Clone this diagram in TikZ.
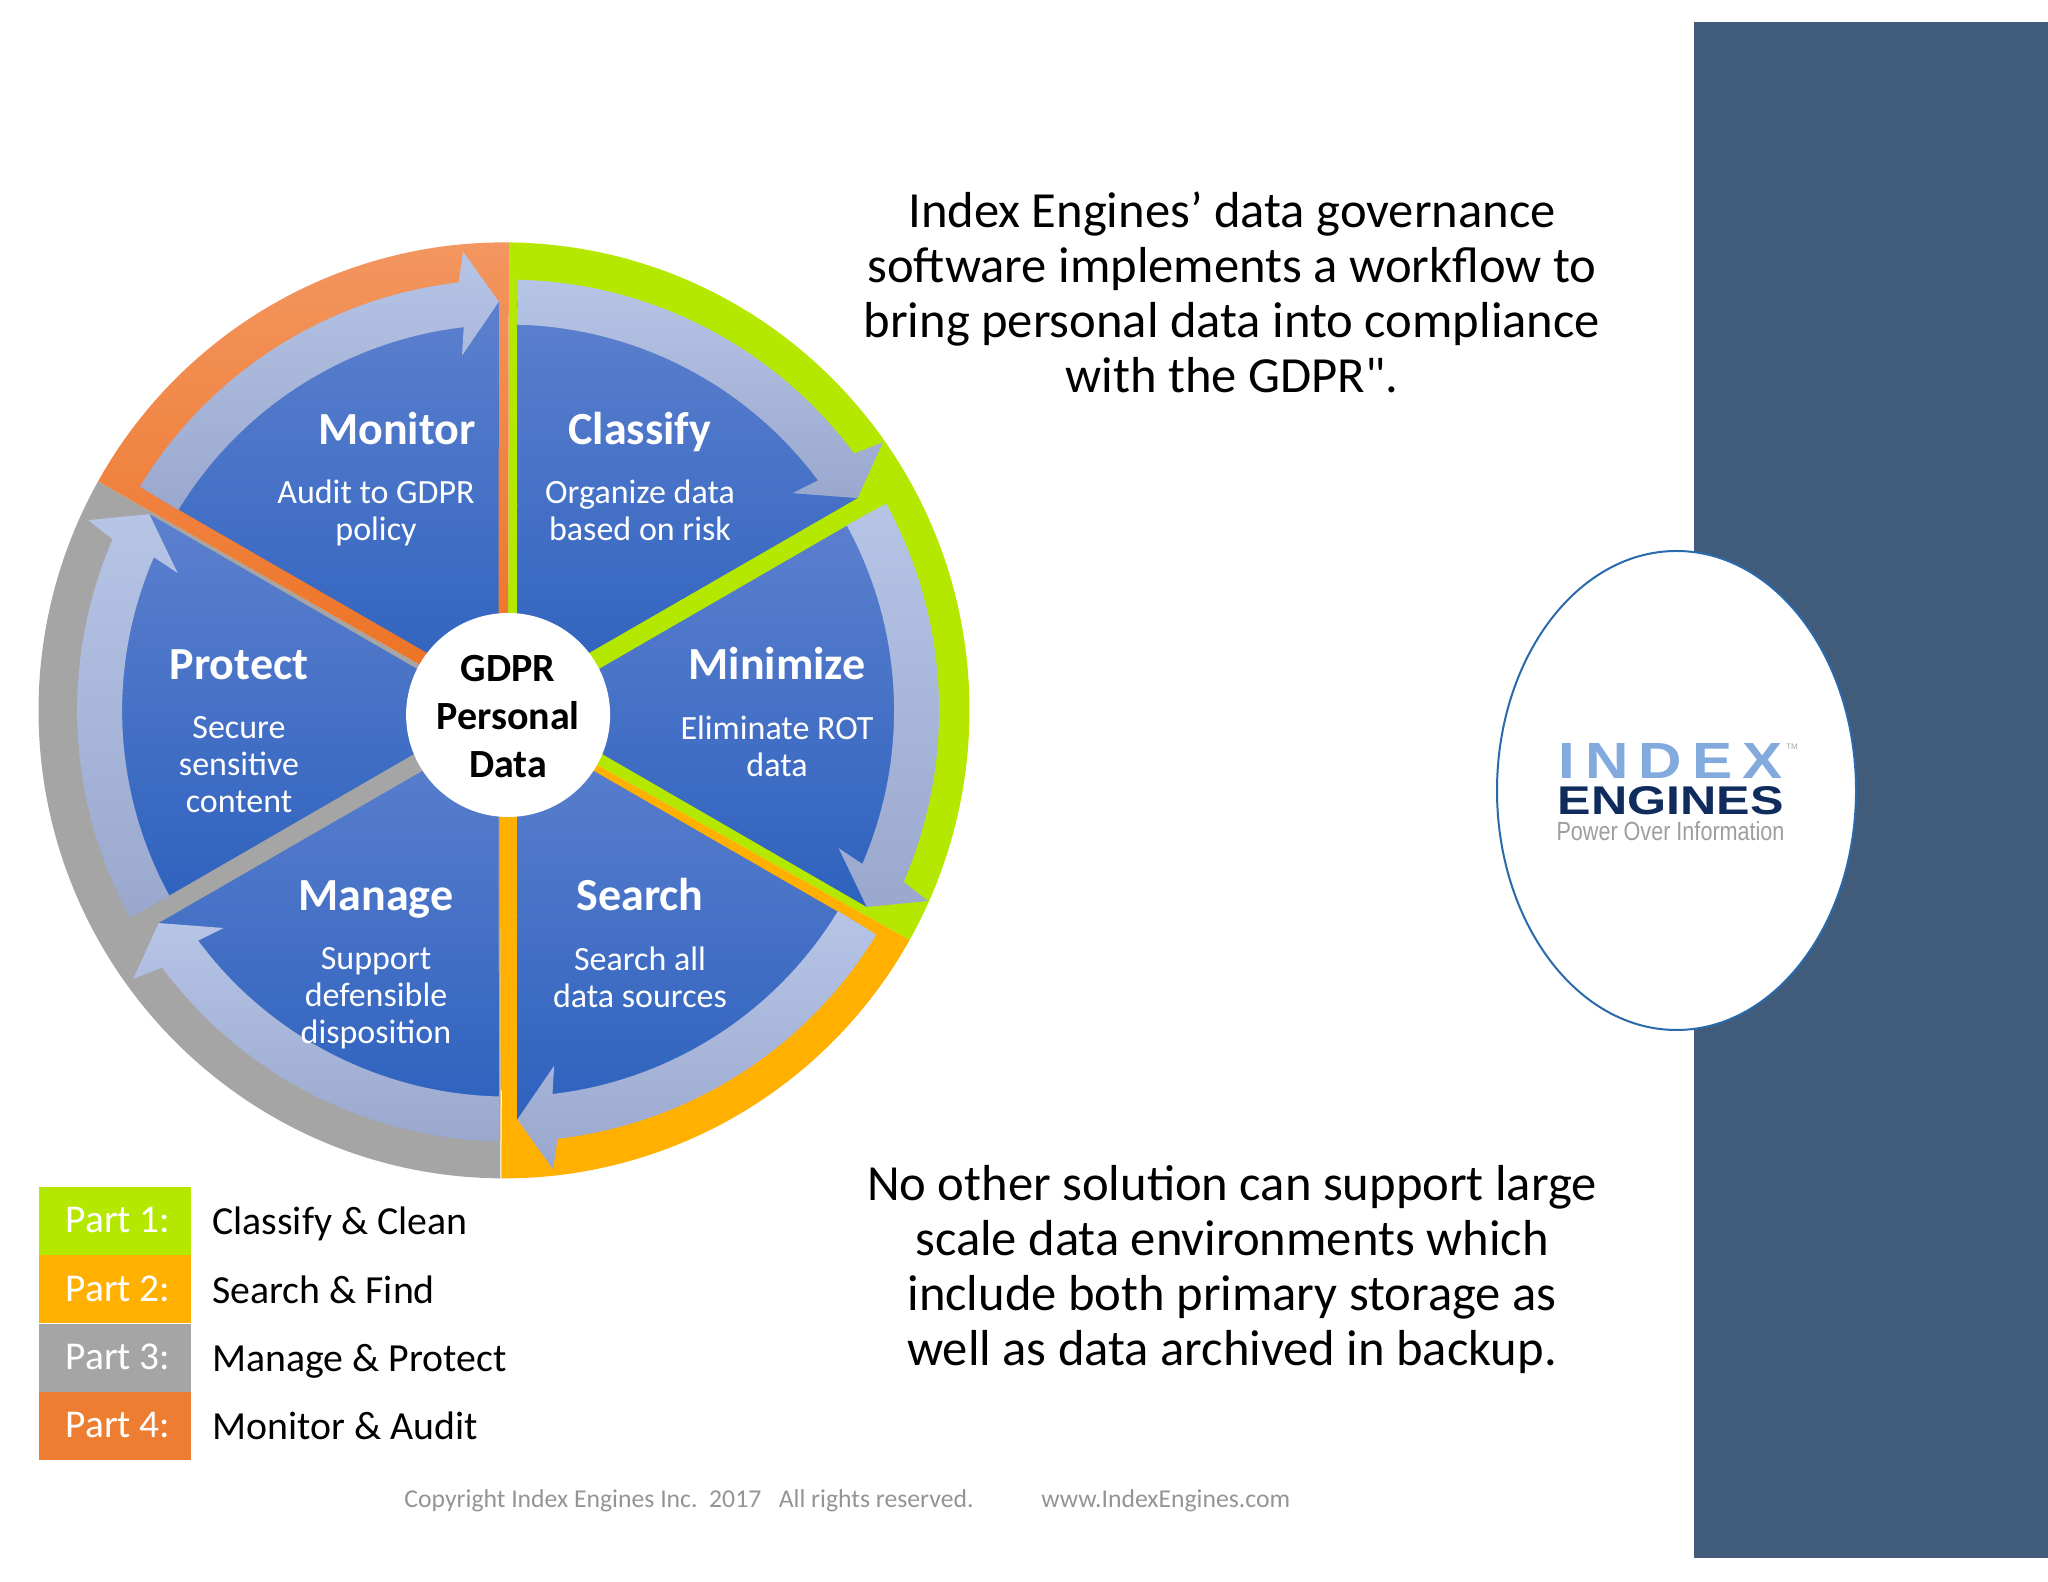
\documentclass[tikz,border=0pt]{standalone}
\usepackage{fontspec}
\usepackage{graphicx}
\setmainfont{Carlito}
\newfontfamily\quotefont{Carlito}
\newfontfamily\logofont{Liberation Sans}
\usetikzlibrary{calc, positioning, shapes.geometric}

\definecolor{partGreen}{HTML}{B4E800}
\definecolor{partAmber}{HTML}{FFB000}
\definecolor{partGray}{HTML}{A5A5A5}
\definecolor{partOrange}{HTML}{ED7D31}
\definecolor{ringTop}{HTML}{F39660}
\definecolor{ringBottom}{HTML}{EC7020}
\definecolor{panelBlue}{HTML}{405C7A}
\definecolor{wedgeTop}{HTML}{5C80CE}
\definecolor{wedgeBottom}{HTML}{2E62BE}
\definecolor{bandTop}{HTML}{B6C4E6}
\definecolor{bandBottom}{HTML}{9AA8CE}
\definecolor{logoLine}{HTML}{2A6AAC}
\definecolor{logoLight}{HTML}{82AADC}
\definecolor{logoDark}{HTML}{102C5C}

\tikzset{
    wedgeFill/.style={top color=wedgeTop, bottom color=wedgeBottom},
    bandFill/.style={top color=bandTop, bottom color=bandBottom},
    ringArc/.style={x radius=465.5, y radius=468},
    stageTitle/.style={text=white, text height=16pt, text depth=2pt, font=\bfseries\fontsize{23}{27}\selectfont},
    stageText/.style={text=white, align=center, execute at begin node=\strut, execute at end node=\strut, font=\fontsize{17}{18.7}\selectfont},
    bigText/.style={align=center, font=\fontsize{25.3}{27.5}\selectfont},
    partBox/.style={text=white, minimum width=76pt, minimum height=34pt, inner sep=0pt, text height=13pt, text depth=1pt, font=\fontsize{19.7}{23}\selectfont},
    partText/.style={anchor=west, inner sep=0pt, text height=13pt, text depth=1pt, font=\fontsize{19.9}{23}\selectfont},
    footText/.style={anchor=west, inner sep=0pt, text=black!42, text height=9pt, text depth=3pt, font=\fontsize{12.85}{15}\selectfont}
}

\begin{document}
\begin{tikzpicture}[x=0.5pt, y=0.5pt]
    \useasboundingbox (0, 0) rectangle (2048, 1582);

    \def\bandIn{386}
    \def\bandOut{431}
    \def\headIn{358}
    \def\headOut{461}
    \def\headTip{409}

    % Draw side panel
    \fill[panelBlue] (1694, 24) rectangle (2048, 1560);

    % Draw coloured ring segments
    \begin{scope}[shift={(504, 871.6)}]
        \fill[partGreen] (4, -4.6) -- (89.4:465.5 and 468) arc[start angle=89.4, end angle=-29.4, ringArc] -- cycle;
        \fill[partGray] (-4.2, -4.6) -- (-90.4:465.5 and 468) arc[start angle=-90.4, end angle=-209.3, ringArc] -- (4, -4.6) -- cycle;
        \fill[partAmber] (4, -4.6) -- (-29.4:465.5 and 468) arc[start angle=-29.4, end angle=-90.4, ringArc] -- (-4.2, -4.6) -- cycle;
        \shade[top color=ringTop, bottom color=ringBottom] (4, -4.6) -- (150.7:465.5 and 468) arc[start angle=150.7, end angle=89.4, ringArc] -- cycle;
        \draw[white, line width=0.5pt] (-90.4:468) -- (-90.4:380);
    \end{scope}

    % Draw blue wedges and arrows
    \begin{scope}[shift={(508.1, 871.4)}]
        \foreach \i in {0,...,5} {
            \pgfmathsetmacro{\apexA}{60 - 60 * \i}
            \pgfmathsetmacro{\startA}{88.7 - 60 * \i}
            \pgfmathsetmacro{\baseA}{36.6 - 60 * \i}
            \pgfmathsetmacro{\tipA}{31.3 - 60 * \i}
            \pgfmathsetmacro{\wingOutA}{35.6 - 60 * \i}
            \pgfmathsetmacro{\wingInA}{37.4 - 60 * \i}
            \shade[wedgeFill] (\apexA:19) -- (\startA:\headTip) arc[start angle=\startA, end angle=\tipA, radius=\headTip] -- cycle;
            \shade[bandFill] (\startA:\bandOut)
                arc[start angle=\startA, end angle=\baseA, radius=\bandOut]
                -- (\wingOutA:\headOut)
                -- (\tipA:\headTip)
                -- (\wingInA:\headIn)
                -- (\baseA:\bandIn)
                arc[start angle=\baseA, end angle=\startA, radius=\bandIn]
                -- cycle;
        }
    \end{scope}

    % Draw centre disc
    \node[circle, fill=white, minimum size=102pt, inner sep=0pt, align=center, font=\bfseries\fontsize{20}{24}\selectfont] (hub) at (508.1, 867) {\rule{0pt}{15pt}GDPR\\Personal\\Data};

    % Label each stage
    \node[stageTitle] (monitor) at (397, 1151.5) {Monitor};
    \node[stageText] (monitorText) at (376, 1066) {Audit to GDPR\\policy};
    \node[stageTitle] (classify) at (640, 1151.5) {Classify};
    \node[stageText] (classifyText) at (640, 1066) {Organize data\\based on risk};
    \node[stageTitle] (minimize) at (777, 916.5) {Minimize};
    \node[stageText] (minimizeText) at (777, 830) {Eliminate ROT\\data};
    \node[stageTitle] (protect) at (239, 916.5) {Protect};
    \node[stageText] (protectText) at (239, 812) {Secure\\sensitive\\content};
    \node[stageTitle] (manage) at (376, 685.5) {Manage};
    \node[stageText] (manageText) at (376, 581) {Support\\defensible\\disposition};
    \node[stageTitle] (search) at (640, 685.5) {Search};
    \node[stageText] (searchText) at (640, 599) {Search all\\data sources};

    % Draw text blocks
    \node[bigText] (intro) at (1232, 1290) {Index Engines’ data governance\\software implements a workflow to\\bring personal data into compliance\\with the GDPR{\quotefont"}.};
    \node[bigText] (claim) at (1232, 312) {No other solution can support large\\scale data environments which\\include both primary storage as\\well as data archived in backup.};

    % Draw legend
    \foreach[count=\i] \col/\txt in {partGreen/Classify \& Clean, partAmber/Search \& Find, partGray/Manage \& Protect, partOrange/Monitor \& Audit} {
        \node[partBox, fill=\col] (part\i) at (115, {361 - 68.3 * (\i - 1)}) {\hspace*{3pt}Part \i:};
        \node[partText] (partText\i) at (212, {359 - 68.3 * (\i - 1)}) {\txt};
    }

    % Draw footer
    \node[footText] (copyright) at (404, 80) {Copyright Index Engines Inc.\ \ 2017\ \ \ All rights reserved.};
    \node[footText] (website) at (1041, 80) {www.IndexEngines.com};

    % Draw logo
    \node[ellipse, draw=logoLine, line width=1pt, fill=white, minimum width=179.5pt, minimum height=239.5pt, inner sep=0pt] (logoDisc) at (1676.5, 791.5) {};
    \node[inner sep=0pt, text=logoLight] (logoIndex) at (1670.5, 821) {\resizebox{112pt}{17.5pt}{\logofont\bfseries I\,N\,D\,E\,X}};
    \node[inner sep=0pt, text=logoDark] (logoEngines) at (1670.5, 781) {\resizebox{113pt}{14pt}{\logofont\bfseries ENGINES}};
    \node[inner sep=0pt, text=black!38] (logoTag) at (1670.5, 751) {\resizebox{114pt}{9.5pt}{\logofont Power Over Information}};
    \node[inner sep=0pt, text=black!35, font=\logofont\fontsize{4}{5}\selectfont] (logoMark) at (1792, 835) {TM};
\end{tikzpicture}
\end{document}
